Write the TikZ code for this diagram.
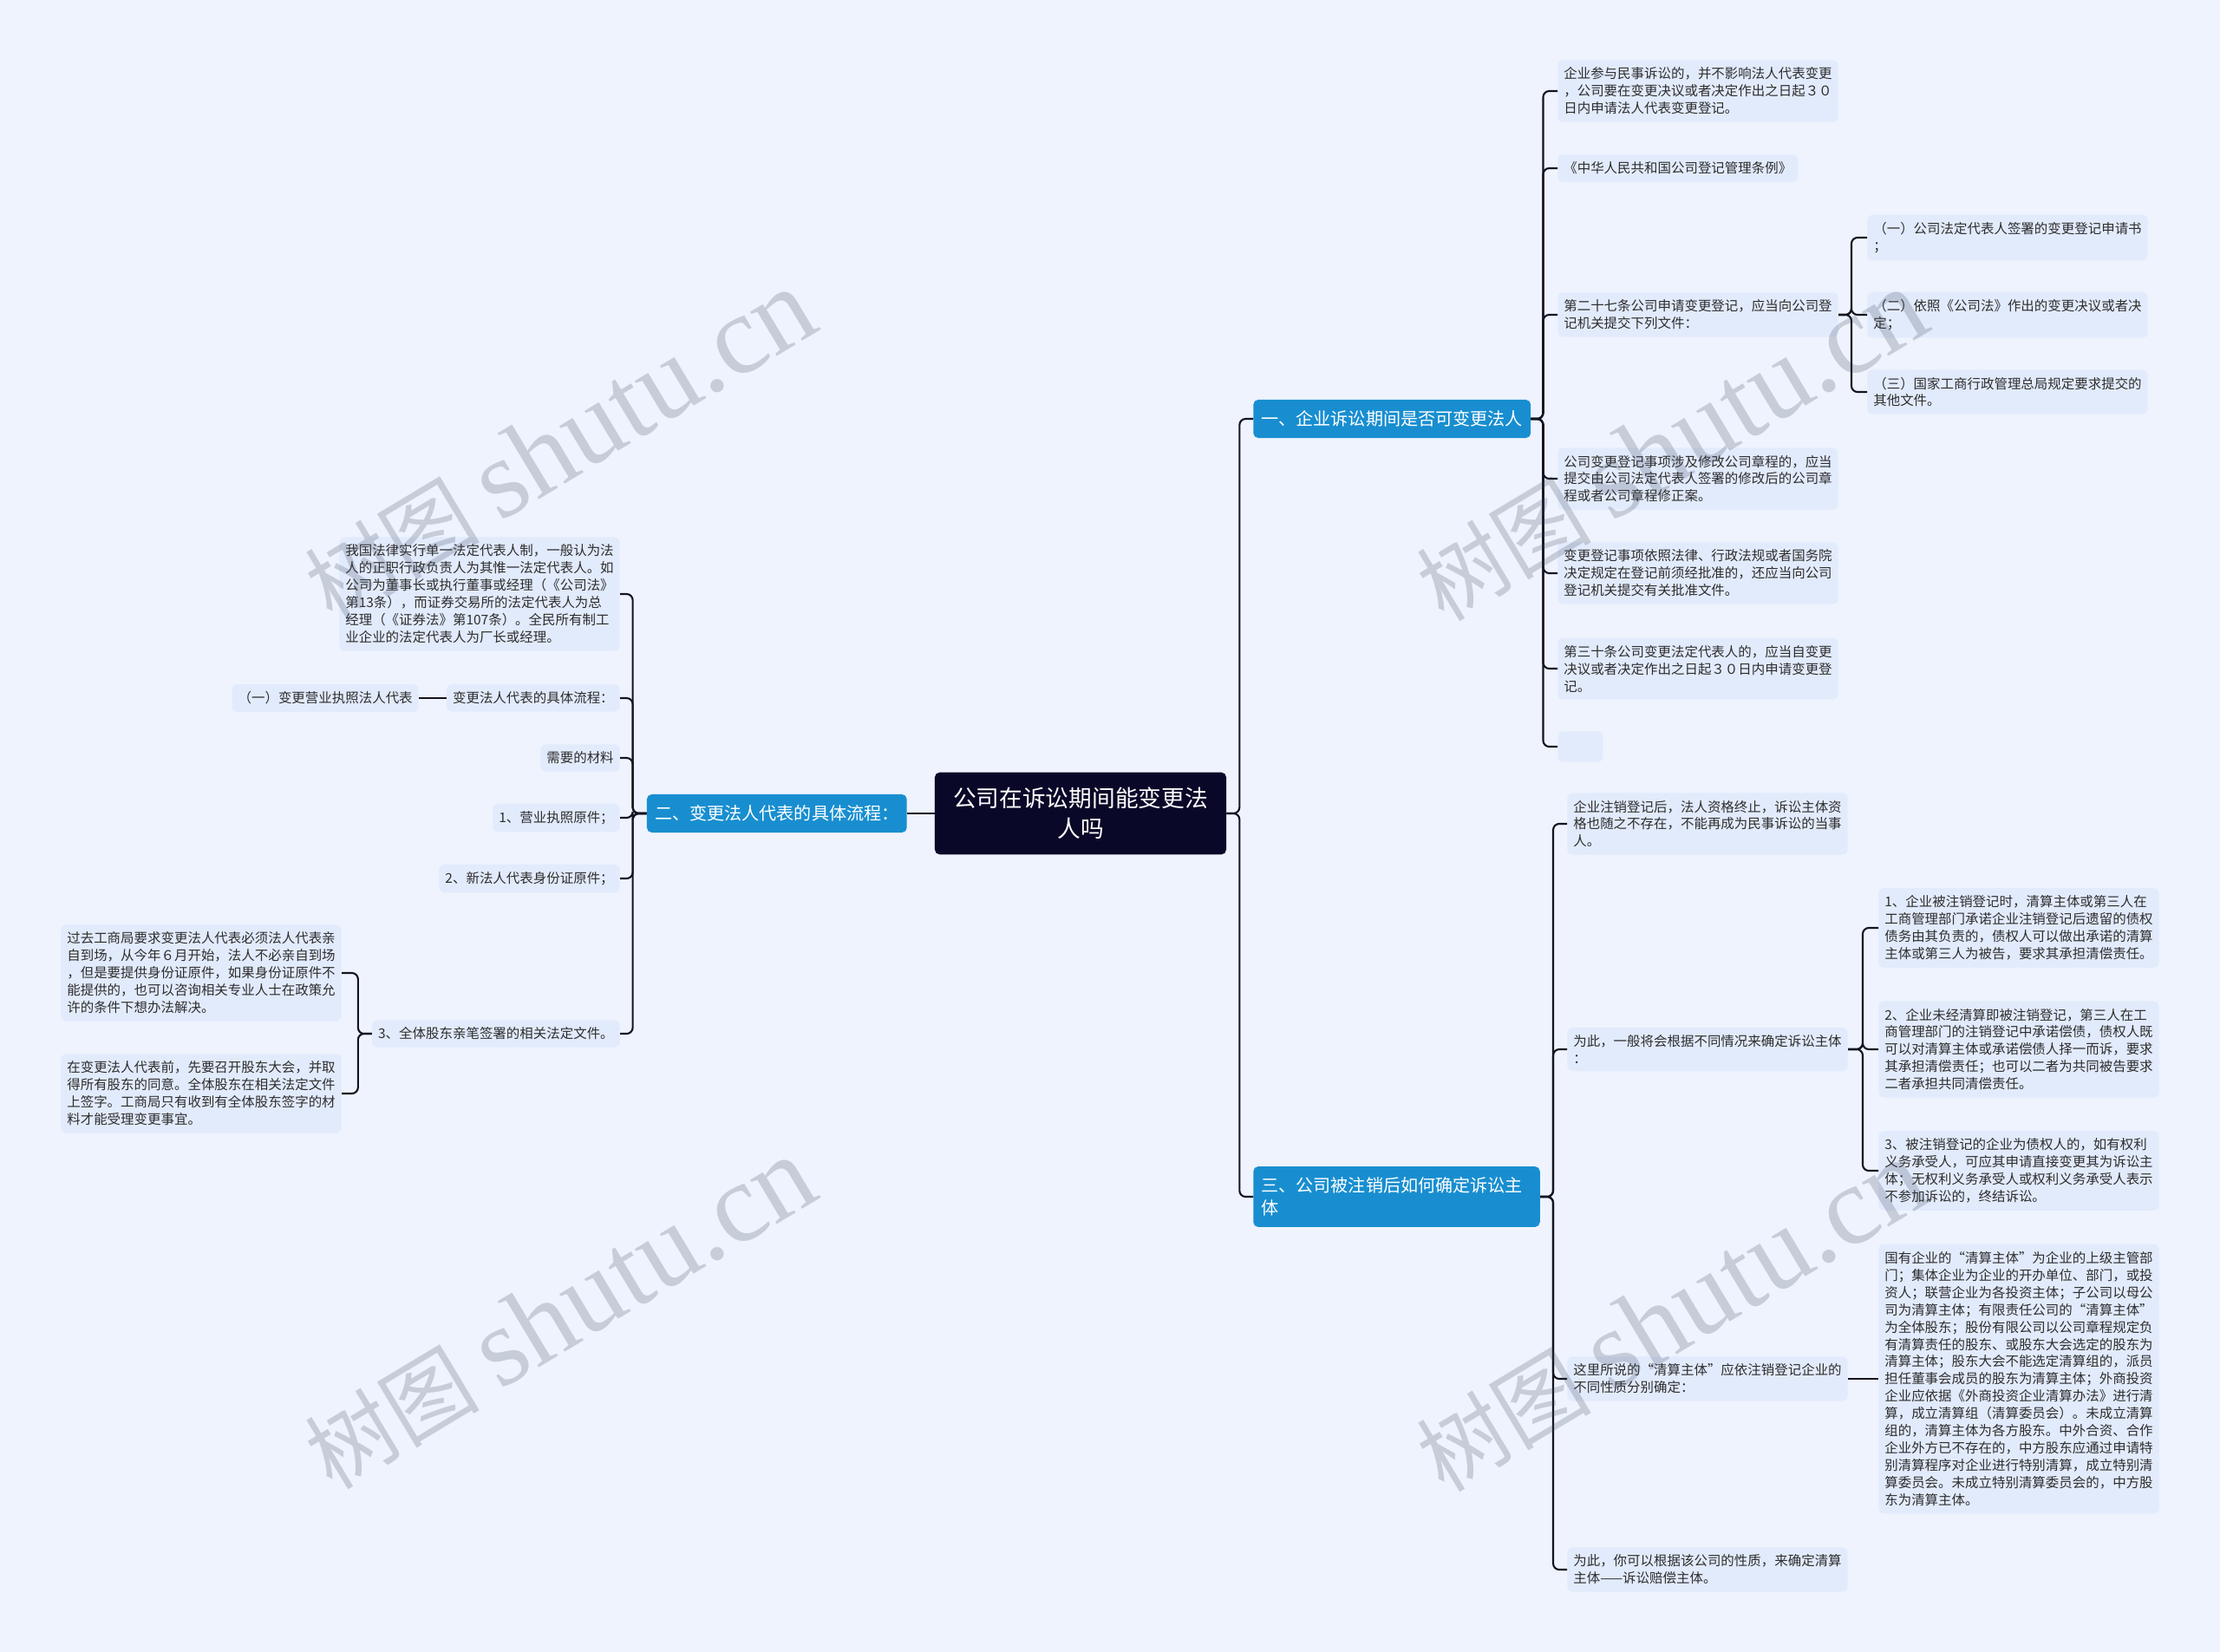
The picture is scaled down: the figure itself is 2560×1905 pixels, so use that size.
\documentclass[tikz,border=0pt]{standalone}
\usepackage{fontspec}
\setmainfont{Noto Sans CJK SC}
\newfontfamily\wmlatin{Liberation Serif}
\usepackage{xcolor}
\usepackage{tikz}
\usetikzlibrary{positioning}
\definecolor{bgcol}{RGB}{238,243,254}
\definecolor{leafcol}{RGB}{226,235,252}
\definecolor{branchcol}{RGB}{24,142,208}
\definecolor{rootcol}{RGB}{10,8,40}
\definecolor{linecol}{RGB}{20,20,30}
\definecolor{txtcol}{RGB}{45,45,45}
\definecolor{wmcol}{RGB}{60,70,90}

\begin{document}
\begin{tikzpicture}[
  x=0.025cm, y=-0.025cm,
  root/.style={fill=rootcol, text=white, rounded corners=4pt, align=center,
               font=\fontsize{19}{24.8}\selectfont, inner xsep=15pt, inner ysep=12.5pt},
  branch/.style={fill=branchcol, text=white, rounded corners=4pt, align=left,
                 font=\fontsize{14.3}{18.4}\selectfont, inner xsep=6.5pt, inner ysep=9pt},
  leaf/.style={fill=leafcol, text=txtcol, rounded corners=4pt, align=left,
               font=\fontsize{11}{14.2}\selectfont, inner xsep=5pt, inner ysep=6pt},
  link/.style={draw=linecol, line width=1.5pt, rounded corners=5pt},
  wmark/.style={text=wmcol, text opacity=0.22, rotate=31,
                font=\fontsize{72}{72}\selectfont}
]
  \fill[bgcol] (0,0) rectangle (2560,1905);
  \useasboundingbox (0,0) rectangle (2560,1905);

  \node[root] (root) at (1246,938) {公司在诉讼期间能变更法\\人吗};

  \node[branch, anchor=west] (b1) at (1445,483) {一、企业诉讼期间是否可变更法人};
  \node[branch, anchor=east] (b2) at (1046,938) {二、变更法人代表的具体流程：};
  \node[branch, anchor=west, text width=222pt] (b3) at (1445,1380)
    {三、公司被注销后如何确定诉讼主\\体};

  \node[leaf, anchor=west] (c11) at (1796,105)
    {企业参与民事诉讼的，并不影响法人代表变更\\，公司要在变更决议或者决定作出之日起３０\\日内申请法人代表变更登记。};
  \node[leaf, anchor=west] (c12) at (1796,194) {《中华人民共和国公司登记管理条例》};
  \node[leaf, anchor=west] (c13) at (1796,363)
    {第二十七条公司申请变更登记，应当向公司登\\记机关提交下列文件：};
  \node[leaf, anchor=west] (c14) at (1796,552)
    {公司变更登记事项涉及修改公司章程的，应当\\提交由公司法定代表人签署的修改后的公司章\\程或者公司章程修正案。};
  \node[leaf, anchor=west] (c15) at (1796,661)
    {变更登记事项依照法律、行政法规或者国务院\\决定规定在登记前须经批准的，还应当向公司\\登记机关提交有关批准文件。};
  \node[leaf, anchor=west] (c16) at (1796,771)
    {第三十条公司变更法定代表人的，应当自变更\\决议或者决定作出之日起３０日内申请变更登\\记。};
  \node[leaf, anchor=west, minimum width=37pt, minimum height=25pt] (c17) at (1796,861) {};

  \node[leaf, anchor=west] (c131) at (2153,274)
    {（一）公司法定代表人签署的变更登记申请书\\；};
  \node[leaf, anchor=west] (c132) at (2153,363)
    {（二）依照《公司法》作出的变更决议或者决\\定；};
  \node[leaf, anchor=west] (c133) at (2153,452)
    {（三）国家工商行政管理总局规定要求提交的\\其他文件。};

  \node[leaf, anchor=west] (c31) at (1807,950)
    {企业注销登记后，法人资格终止，诉讼主体资\\格也随之不存在，不能再成为民事诉讼的当事\\人。};
  \node[leaf, anchor=west] (c32) at (1807,1210)
    {为此，一般将会根据不同情况来确定诉讼主体\\：};
  \node[leaf, anchor=west] (c33) at (1807,1590)
    {这里所说的“清算主体”应依注销登记企业的\\不同性质分别确定：};
  \node[leaf, anchor=west] (c34) at (1807,1810)
    {为此，你可以根据该公司的性质，来确定清算\\主体——诉讼赔偿主体。};

  \node[leaf, anchor=west] (c321) at (2166,1070)
    {1、企业被注销登记时，清算主体或第三人在\\工商管理部门承诺企业注销登记后遗留的债权\\债务由其负责的，债权人可以做出承诺的清算\\主体或第三人为被告，要求其承担清偿责任。};
  \node[leaf, anchor=west] (c322) at (2166,1210)
    {2、企业未经清算即被注销登记，第三人在工\\商管理部门的注销登记中承诺偿债，债权人既\\可以对清算主体或承诺偿债人择一而诉，要求\\其承担清偿责任；也可以二者为共同被告要求\\二者承担共同清偿责任。};
  \node[leaf, anchor=west] (c323) at (2166,1350)
    {3、被注销登记的企业为债权人的，如有权利\\义务承受人，可应其申请直接变更其为诉讼主\\体；无权利义务承受人或权利义务承受人表示\\不参加诉讼的，终结诉讼。};
  \node[leaf, anchor=west] (c331) at (2166,1590)
    {国有企业的“清算主体”为企业的上级主管部\\门；集体企业为企业的开办单位、部门，或投\\资人；联营企业为各投资主体；子公司以母公\\司为清算主体；有限责任公司的“清算主体”\\为全体股东；股份有限公司以公司章程规定负\\有清算责任的股东、或股东大会选定的股东为\\清算主体；股东大会不能选定清算组的，派员\\担任董事会成员的股东为清算主体；外商投资\\企业应依据《外商投资企业清算办法》进行清\\算，成立清算组（清算委员会）。未成立清算\\组的，清算主体为各方股东。中外合资、合作\\企业外方已不存在的，中方股东应通过申请特\\别清算程序对企业进行特别清算，成立特别清\\算委员会。未成立特别清算委员会的，中方股\\东为清算主体。};

  \node[leaf, anchor=east] (l1) at (715,685)
    {我国法律实行单一法定代表人制，一般认为法\\人的正职行政负责人为其惟一法定代表人。如\\公司为董事长或执行董事或经理（《公司法》\\第13条），而证券交易所的法定代表人为总\\经理（《证券法》第107条）。全民所有制工\\业企业的法定代表人为厂长或经理。};
  \node[leaf, anchor=east] (l2) at (715,805) {变更法人代表的具体流程：};
  \node[leaf, anchor=east] (l21) at (483,805) {（一）变更营业执照法人代表};
  \node[leaf, anchor=east] (l3) at (715,874) {需要的材料};
  \node[leaf, anchor=east] (l4) at (715,943) {1、营业执照原件；};
  \node[leaf, anchor=east] (l5) at (715,1013) {2、新法人代表身份证原件；};
  \node[leaf, anchor=east] (l6) at (715,1192) {3、全体股东亲笔签署的相关法定文件。};
  \node[leaf, anchor=east] (l61) at (394,1122)
    {过去工商局要求变更法人代表必须法人代表亲\\自到场，从今年６月开始，法人不必亲自到场\\，但是要提供身份证原件，如果身份证原件不\\能提供的，也可以咨询相关专业人士在政策允\\许的条件下想办法解决。};
  \node[leaf, anchor=east] (l62) at (394,1261)
    {在变更法人代表前，先要召开股东大会，并取\\得所有股东的同意。全体股东在相关法定文件\\上签字。工商局只有收到有全体股东签字的材\\料才能受理变更事宜。};

  \draw[link] (root.west) -- (b2.east);
  \draw[link] (root.east) -- ++(15,0) |- (b1.west);
  \draw[link] (root.east) -- ++(15,0) |- (b3.west);
  \foreach \n in {c11,c12,c13,c14,c15,c16,c17}
    \draw[link] (b1.east) -- ++(14,0) |- (\n.west);
  \foreach \n in {c131,c132,c133}
    \draw[link] (c13.east) -- ++(15,0) |- (\n.west);
  \foreach \n in {c31,c32,c33,c34}
    \draw[link] (b3.east) -- ++(15,0) |- (\n.west);
  \foreach \n in {c321,c322,c323}
    \draw[link] (c32.east) -- ++(17,0) |- (\n.west);
  \draw[link] (c33.east) -- (c331.west);
  \foreach \n in {l1,l2,l3,l4,l5,l6}
    \draw[link] (b2.west) -- ++(-16,0) |- (\n.east);
  \draw[link] (l2.west) -- (l21.east);
  \foreach \n in {l61,l62}
    \draw[link] (l6.west) -- ++(-16,0) |- (\n.east);

  \node[wmark] (wm1) at (645,514) {树图 {\wmlatin\fontsize{92}{92}\selectfont shutu.cn}};
  \node[wmark] (wm2) at (645,1515) {树图 {\wmlatin\fontsize{92}{92}\selectfont shutu.cn}};
  \node[wmark] (wm3) at (1927,514) {树图 {\wmlatin\fontsize{92}{92}\selectfont shutu.cn}};
  \node[wmark] (wm4) at (1927,1518) {树图 {\wmlatin\fontsize{92}{92}\selectfont shutu.cn}};
\end{tikzpicture}
\end{document}
